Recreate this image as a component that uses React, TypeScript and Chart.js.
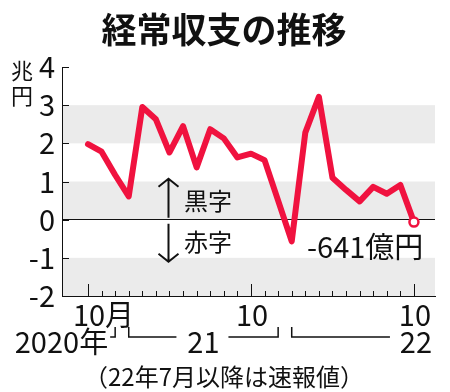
import React, { useEffect, useRef } from 'react';
import { Chart, registerables } from 'chart.js';

Chart.register(...registerables);

// Monthly current-account balance (trillion yen), Oct 2020 – Oct 2022
const months = [
  '2020-10', '2020-11', '2020-12',
  '2021-01', '2021-02', '2021-03', '2021-04', '2021-05', '2021-06',
  '2021-07', '2021-08', '2021-09', '2021-10', '2021-11', '2021-12',
  '2022-01', '2022-02', '2022-03', '2022-04', '2022-05', '2022-06',
  '2022-07', '2022-08', '2022-09', '2022-10',
];
const balance = [
  1.98, 1.78, 1.17,
  0.61, 2.95, 2.63, 1.76, 2.45, 1.37,
  2.37, 2.13, 1.63, 1.73, 1.56, 0.5,
  -0.57, 2.28, 3.22, 1.1, 0.78, 0.48,
  0.86, 0.68, 0.91, -0.0641,
];
const yTickValues = [-2, -1, 0, 1, 2, 3, 4];
const bandRanges: [number, number][] = [[2, 3], [0, 1], [-2, -1]];
const majorTickIndex = [0, 12, 24];
const majorTickLabels = ['10月', '10', '10'];
const yearLabels = ['2020年', '21', '22'];
const yearSpans: [number, number][] = [[0, 2], [3, 14], [15, 24]];

const TITLE = '経常収支の推移';
const UNIT = ['兆', '円'];
const SURPLUS = '黒字';
const DEFICIT = '赤字';
const LAST_LABEL = '-641億円';
const NOTE = '（22年7月以降は速報値）';

const RED = '#f0123f';
const FONT = '"Noto Sans CJK JP", "Noto Sans", sans-serif';

const decor = {
  id: 'decor',
  beforeDraw(chart: any) {
    const { ctx, chartArea: a, scales } = chart;
    const y = scales.y;
    ctx.save();
    ctx.fillStyle = '#ebebeb';
    for (const [lo, hi] of bandRanges) {
      const top = y.getPixelForValue(hi);
      const bot = y.getPixelForValue(lo);
      ctx.fillRect(a.left, top, a.right - a.left, bot - top);
    }
    ctx.restore();
  },
  afterDraw(chart: any) {
    const { ctx, chartArea: a, scales } = chart;
    const x = scales.x;
    const y = scales.y;
    ctx.save();
    ctx.strokeStyle = '#111';
    ctx.fillStyle = '#111';
    ctx.lineWidth = 1;

    // inward y ticks
    for (const v of yTickValues) {
      const py = Math.round(y.getPixelForValue(v)) + 0.5;
      ctx.beginPath();
      ctx.moveTo(a.left, py);
      ctx.lineTo(a.left + 7, py);
      ctx.stroke();
    }
    // inward x ticks (each month)
    months.forEach((_, i) => {
      const px = Math.round(x.getPixelForValue(i)) + 0.5;
      const len = majorTickIndex.includes(i) ? 12 : 5;
      ctx.beginPath();
      ctx.moveTo(px, a.bottom);
      ctx.lineTo(px, a.bottom - len);
      ctx.stroke();
    });

    // x labels
    ctx.font = `29px ${FONT}`;
    ctx.textBaseline = 'middle';
    majorTickIndex.forEach((idx, k) => {
      const px = x.getPixelForValue(idx);
      const lab = majorTickLabels[k];
      const numW = ctx.measureText('10').width;
      ctx.textAlign = 'left';
      ctx.fillText(lab, px - numW / 2 + 1, a.bottom + 19);
    });

    // year row
    const rowY = a.bottom + 46;
    const brTop = a.bottom + 31;
    const brBot = a.bottom + 41;
    ctx.lineWidth = 1.5;
    // 2020
    {
      const [, to] = yearSpans[0];
      const px = x.getPixelForValue(to);
      ctx.textAlign = 'right';
      ctx.fillText(yearLabels[0], px - 7, rowY);
      ctx.beginPath();
      ctx.moveTo(px, brTop);
      ctx.lineTo(px, brBot);
      ctx.lineTo(px - 5, brBot);
      ctx.stroke();
    }
    // 21
    {
      const [from, to] = yearSpans[1];
      const p0 = x.getPixelForValue(from);
      const p1 = x.getPixelForValue(to);
      const c = (p0 + p1) / 2;
      ctx.textAlign = 'center';
      ctx.fillText(yearLabels[1], c, rowY);
      ctx.beginPath();
      ctx.moveTo(p0, brTop);
      ctx.lineTo(p0, brBot);
      ctx.lineTo(c - 27, brBot);
      ctx.moveTo(c + 25, brBot);
      ctx.lineTo(p1, brBot);
      ctx.lineTo(p1, brTop);
      ctx.stroke();
    }
    // 22
    {
      const [from, to] = yearSpans[2];
      const p0 = x.getPixelForValue(from);
      const p1 = x.getPixelForValue(to);
      ctx.textAlign = 'center';
      ctx.fillText(yearLabels[2], p1 + 2, rowY);
      ctx.beginPath();
      ctx.moveTo(p0, brTop);
      ctx.lineTo(p0, brBot);
      ctx.lineTo(p1 - 24, brBot);
      ctx.stroke();
    }

    // note
    ctx.font = `24px ${FONT}`;
    ctx.textAlign = 'center';
    ctx.fillText(NOTE, 224, 377);

    // title
    ctx.font = `bold 35px ${FONT}`;
    ctx.fillText(TITLE, 224, 30);

    // unit
    ctx.font = `22px ${FONT}`;
    ctx.fillText(UNIT[0], 22, 71);
    ctx.fillText(UNIT[1], 22, 96);

    // surplus / deficit arrows
    const zero = y.getPixelForValue(0);
    const ax = 168.5;
    ctx.lineWidth = 2;
    ctx.beginPath();
    ctx.moveTo(ax, zero - 2);
    ctx.lineTo(ax, zero - 41);
    ctx.moveTo(ax - 10, zero - 33);
    ctx.lineTo(ax, zero - 41);
    ctx.lineTo(ax + 10, zero - 33);
    ctx.moveTo(ax, zero + 4);
    ctx.lineTo(ax, zero + 42);
    ctx.moveTo(ax - 10, zero + 34);
    ctx.lineTo(ax, zero + 42);
    ctx.lineTo(ax + 10, zero + 34);
    ctx.stroke();
    ctx.font = `24px ${FONT}`;
    ctx.textAlign = 'left';
    ctx.fillText(SURPLUS, 184, zero - 19);
    ctx.fillText(DEFICIT, 184, zero + 22);

    // last value label
    ctx.font = `29px ${FONT}`;
    ctx.fillText(LAST_LABEL, 307, zero + 27);

    ctx.restore();
  },
};

export default function App() {
  const ref = useRef<HTMLCanvasElement | null>(null);
  useEffect(() => {
    document.body.style.margin = '0';
    if (!ref.current) return;
    const last = balance.length - 1;
    const chart = new Chart(ref.current, {
      type: 'line',
      data: {
        datasets: [
          {
            data: balance.map((v, i) => ({ x: i, y: v })),
            borderColor: RED,
            borderWidth: 6,
            borderJoinStyle: 'round',
            borderCapStyle: 'round',
            tension: 0,
            pointRadius: (c: any) => (c.dataIndex === last ? 4.5 : 0),
            pointBackgroundColor: '#fff',
            pointBorderColor: RED,
            pointBorderWidth: 2.5,
            pointHoverRadius: 0,
          },
        ],
      },
      options: {
        responsive: false,
        animation: false,
        events: [],
        layout: { padding: { top: 67, right: 15, left: 0, bottom: 0 } },
        plugins: {
          legend: { display: false },
          title: { display: false },
          tooltip: { enabled: false },
        },
        scales: {
          x: {
            type: 'linear',
            min: -1.914,
            max: 25.55,
            grid: { display: false },
            ticks: { display: false },
            border: { display: true, color: '#111', width: 1 },
            afterFit: (s: any) => {
              s.height = 96;
            },
          },
          y: {
            type: 'linear',
            min: -2,
            max: 4,
            afterBuildTicks: (s: any) => {
              s.ticks = yTickValues.map((v) => ({ value: v }));
            },
            ticks: {
              color: '#111',
              padding: 7,
              font: { family: FONT, size: 29 },
            },
            grid: {
              drawTicks: false,
              color: (c: any) => (c.tick && c.tick.value === 0 ? '#111' : 'rgba(0,0,0,0)'),
              lineWidth: 1,
            },
            border: { display: true, color: '#111', width: 1 },
            afterFit: (s: any) => {
              s.width = 62;
            },
          },
        },
      },
      plugins: [decor],
    });
    return () => chart.destroy();
  }, []);
  return (
    <div style={{ position: 'fixed', left: 0, top: 0, width: 450, height: 392, background: '#fff' }}>
      <canvas ref={ref} width={450} height={392} style={{ width: 450, height: 392, display: 'block' }} />
    </div>
  );
}
